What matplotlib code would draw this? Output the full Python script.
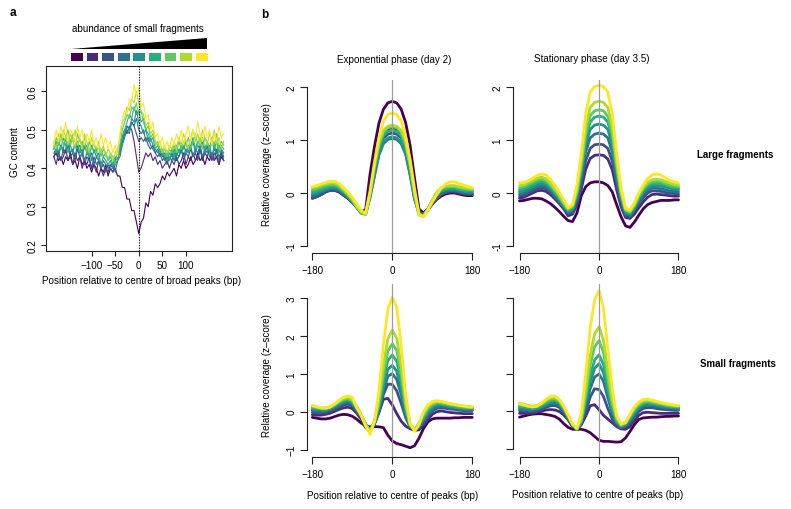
import numpy as np
import matplotlib
matplotlib.use('Agg')
import matplotlib.pyplot as plt
from matplotlib.patches import Polygon, Rectangle

plt.rcParams['font.family'] = ['Liberation Sans', 'DejaVu Sans']

# ---------------- data ----------------
x_gc = list(range(-180, 181, 5))
x_cov = list(range(-180, 181, 10))

# panel a: GC content, 9 groups (low -> high abundance of small fragments)
gc_content = [
    [0.43,0.44,0.42,0.43,0.41,0.43,0.42,0.44,0.41,0.42,0.40,0.43,0.41,0.42,0.40,0.41,0.39,0.41,0.40,0.38,0.40,0.39,0.41,0.38,0.40,
     0.39,0.40,0.38,0.38,0.35,0.35,0.32,0.32,0.29,0.29,0.26,0.23,0.26,0.27,0.31,0.30,0.34,0.33,0.36,0.35,0.36,0.38,0.37,
     0.39,0.38,0.39,0.40,0.38,0.41,0.40,0.42,0.40,0.41,0.43,0.41,0.42,0.44,0.42,0.43,0.41,0.43,0.42,0.44,0.42,0.43,0.41,0.43,0.42],
    [0.43,0.41,0.44,0.42,0.43,0.45,0.42,0.43,0.41,0.44,0.42,0.43,0.40,0.42,0.41,0.43,0.40,0.41,0.39,0.42,0.40,0.38,0.40,0.39,0.41,
     0.40,0.42,0.44,0.46,0.48,0.50,0.49,0.51,0.50,0.47,0.43,0.39,0.40,0.42,0.44,0.43,0.44,0.42,0.43,0.41,0.42,0.40,0.41,
     0.42,0.40,0.42,0.41,0.43,0.41,0.42,0.44,0.41,0.43,0.42,0.44,0.42,0.43,0.45,0.42,0.44,0.43,0.45,0.42,0.44,0.43,0.41,0.44,0.42],
    [0.43,0.45,0.44,0.42,0.45,0.44,0.46,0.43,0.44,0.42,0.45,0.43,0.44,0.41,0.43,0.42,0.40,0.43,0.41,0.42,0.40,0.41,0.39,0.41,0.40,
     0.39,0.41,0.42,0.45,0.47,0.49,0.51,0.50,0.52,0.51,0.49,0.47,0.48,0.47,0.48,0.46,0.45,0.46,0.44,0.43,0.44,0.42,0.43,
     0.41,0.43,0.42,0.44,0.42,0.43,0.45,0.42,0.44,0.43,0.45,0.43,0.44,0.42,0.45,0.43,0.44,0.46,0.43,0.44,0.42,0.45,0.43,0.44,0.42],
    [0.44,0.45,0.43,0.46,0.44,0.45,0.47,0.44,0.45,0.43,0.46,0.44,0.45,0.42,0.44,0.43,0.44,0.41,0.43,0.42,0.40,0.42,0.41,0.40,0.41,
     0.41,0.39,0.42,0.43,0.46,0.48,0.50,0.49,0.52,0.51,0.53,0.50,0.49,0.50,0.47,0.48,0.46,0.45,0.44,0.45,0.43,0.44,0.42,
     0.43,0.42,0.44,0.42,0.44,0.43,0.45,0.43,0.45,0.44,0.46,0.43,0.45,0.44,0.46,0.43,0.45,0.44,0.46,0.43,0.45,0.44,0.42,0.45,0.43],
    [0.45,0.47,0.44,0.46,0.45,0.48,0.45,0.46,0.44,0.47,0.45,0.46,0.43,0.46,0.44,0.45,0.42,0.45,0.43,0.44,0.41,0.43,0.42,0.41,0.42,
     0.40,0.42,0.43,0.44,0.47,0.49,0.51,0.50,0.53,0.52,0.55,0.52,0.51,0.49,0.50,0.47,0.48,0.46,0.45,0.44,0.45,0.43,0.44,
     0.42,0.44,0.43,0.45,0.43,0.45,0.44,0.46,0.44,0.46,0.45,0.47,0.44,0.46,0.45,0.47,0.44,0.46,0.45,0.43,0.46,0.44,0.46,0.45,0.44],
    [0.46,0.44,0.47,0.45,0.48,0.46,0.44,0.47,0.49,0.46,0.47,0.44,0.47,0.45,0.46,0.43,0.46,0.44,0.45,0.42,0.45,0.43,0.44,0.42,0.43,
     0.41,0.43,0.42,0.45,0.48,0.50,0.52,0.54,0.53,0.56,0.54,0.55,0.52,0.53,0.50,0.49,0.47,0.48,0.45,0.46,0.44,0.45,0.43,
     0.44,0.42,0.45,0.43,0.46,0.44,0.46,0.45,0.47,0.44,0.46,0.48,0.45,0.47,0.46,0.48,0.45,0.47,0.44,0.47,0.45,0.47,0.44,0.46,0.45],
    [0.45,0.48,0.46,0.49,0.46,0.48,0.50,0.46,0.48,0.45,0.49,0.47,0.46,0.48,0.44,0.47,0.45,0.47,0.44,0.46,0.43,0.45,0.44,0.42,0.44,
     0.43,0.41,0.44,0.46,0.50,0.52,0.54,0.53,0.56,0.55,0.57,0.54,0.55,0.52,0.50,0.51,0.48,0.49,0.46,0.47,0.45,0.44,0.45,
     0.43,0.45,0.44,0.46,0.44,0.47,0.45,0.47,0.46,0.48,0.45,0.47,0.49,0.46,0.48,0.45,0.48,0.47,0.45,0.48,0.46,0.49,0.45,0.47,0.46],
    [0.47,0.45,0.49,0.47,0.50,0.48,0.46,0.49,0.47,0.50,0.46,0.48,0.45,0.49,0.47,0.44,0.48,0.46,0.45,0.47,0.44,0.46,0.43,0.45,0.44,
     0.42,0.44,0.45,0.48,0.52,0.53,0.56,0.55,0.58,0.57,0.60,0.57,0.55,0.54,0.51,0.52,0.49,0.50,0.47,0.46,0.47,0.44,0.46,
     0.44,0.46,0.45,0.47,0.45,0.48,0.46,0.49,0.47,0.45,0.48,0.50,0.47,0.49,0.46,0.50,0.48,0.46,0.49,0.47,0.50,0.46,0.48,0.45,0.47],
    [0.46,0.50,0.47,0.51,0.48,0.52,0.47,0.50,0.49,0.46,0.51,0.48,0.50,0.46,0.49,0.47,0.50,0.46,0.48,0.45,0.49,0.46,0.48,0.45,0.47,
     0.44,0.46,0.43,0.49,0.53,0.55,0.54,0.58,0.57,0.62,0.59,0.61,0.56,0.57,0.53,0.54,0.50,0.52,0.48,0.49,0.46,0.48,0.45,
     0.47,0.45,0.48,0.46,0.49,0.47,0.50,0.46,0.49,0.51,0.47,0.50,0.48,0.52,0.49,0.47,0.51,0.48,0.50,0.46,0.49,0.47,0.51,0.48,0.49],
]

# panel b: relative coverage (z-score)
exp_large = [
    [-0.10,-0.07,-0.03,0.02,0.05,0.05,0.02,-0.04,-0.10,-0.17,-0.25,-0.35,-0.32,0.36,0.88,1.32,1.58,1.70,1.73,1.70,1.58,1.33,0.90,0.28,-0.30,-0.38,-0.30,-0.20,-0.12,-0.06,-0.02,0.00,0.00,-0.02,-0.04,-0.05,-0.05],
    [-0.08,-0.05,-0.01,0.03,0.06,0.07,0.04,-0.02,-0.09,-0.17,-0.26,-0.36,-0.36,0.12,0.60,0.95,1.14,1.21,1.23,1.21,1.14,0.96,0.62,0.12,-0.34,-0.40,-0.32,-0.21,-0.11,-0.04,0.00,0.02,0.02,0.00,-0.02,-0.03,-0.03],
    [-0.10,-0.07,-0.03,0.02,0.05,0.05,0.03,-0.03,-0.10,-0.18,-0.27,-0.37,-0.37,0.02,0.48,0.85,1.04,1.11,1.13,1.11,1.04,0.86,0.50,0.04,-0.36,-0.40,-0.32,-0.20,-0.10,-0.03,0.01,0.03,0.03,0.01,-0.01,-0.02,-0.02],
    [-0.05,-0.03,0.01,0.05,0.08,0.08,0.05,-0.01,-0.08,-0.17,-0.27,-0.38,-0.39,-0.08,0.32,0.72,0.93,1.01,1.03,1.01,0.93,0.73,0.34,-0.12,-0.38,-0.41,-0.31,-0.18,-0.07,0.01,0.04,0.05,0.05,0.03,0.01,0.00,0.00],
    [-0.02,0.00,0.04,0.07,0.10,0.10,0.07,0.01,-0.07,-0.16,-0.27,-0.38,-0.40,-0.06,0.35,0.75,0.96,1.04,1.06,1.04,0.96,0.76,0.36,-0.10,-0.39,-0.42,-0.31,-0.17,-0.05,0.03,0.06,0.07,0.07,0.05,0.03,0.02,0.02],
    [0.02,0.04,0.07,0.10,0.13,0.13,0.10,0.03,-0.05,-0.15,-0.27,-0.38,-0.40,-0.02,0.45,0.85,1.08,1.16,1.18,1.16,1.08,0.86,0.46,-0.04,-0.40,-0.43,-0.30,-0.15,-0.03,0.05,0.08,0.09,0.09,0.07,0.05,0.04,0.04],
    [0.06,0.08,0.11,0.14,0.16,0.16,0.12,0.05,-0.03,-0.13,-0.26,-0.37,-0.40,0.00,0.50,0.92,1.15,1.23,1.25,1.23,1.15,0.93,0.52,-0.02,-0.41,-0.44,-0.30,-0.14,0.00,0.08,0.11,0.12,0.12,0.10,0.08,0.07,0.06],
    [0.10,0.12,0.15,0.17,0.19,0.19,0.15,0.07,-0.02,-0.12,-0.25,-0.36,-0.40,0.02,0.53,0.95,1.18,1.26,1.28,1.26,1.18,0.96,0.55,0.00,-0.41,-0.45,-0.31,-0.14,0.01,0.10,0.13,0.14,0.14,0.12,0.10,0.09,0.08],
    [0.12,0.14,0.17,0.20,0.22,0.22,0.18,0.10,0.02,-0.08,-0.20,-0.33,-0.38,0.02,0.58,1.04,1.35,1.48,1.51,1.48,1.36,1.07,0.64,0.08,-0.40,-0.45,-0.32,-0.17,-0.03,0.09,0.17,0.21,0.21,0.18,0.15,0.12,0.10],
]

stat_large = [
    [-0.15,-0.14,-0.12,-0.10,-0.10,-0.11,-0.15,-0.20,-0.27,-0.35,-0.44,-0.52,-0.54,-0.38,-0.05,0.12,0.19,0.21,0.21,0.19,0.14,0.02,-0.22,-0.45,-0.62,-0.65,-0.55,-0.42,-0.30,-0.22,-0.18,-0.16,-0.14,-0.14,-0.14,-0.13,-0.13],
    [-0.10,-0.08,-0.04,0.00,0.04,0.05,0.03,-0.03,-0.11,-0.20,-0.30,-0.43,-0.40,-0.23,0.08,0.45,0.65,0.71,0.72,0.71,0.64,0.44,0.06,-0.26,-0.46,-0.48,-0.40,-0.28,-0.17,-0.08,-0.03,-0.02,-0.03,-0.04,-0.05,-0.06,-0.06],
    [-0.06,-0.04,0.00,0.04,0.08,0.10,0.08,0.01,-0.08,-0.18,-0.28,-0.39,-0.37,-0.17,0.18,0.61,0.84,0.91,0.92,0.91,0.84,0.60,0.17,-0.20,-0.42,-0.45,-0.35,-0.21,-0.09,0.00,0.04,0.04,0.03,0.01,0.00,-0.01,-0.02],
    [-0.02,0.00,0.04,0.08,0.12,0.14,0.12,0.05,-0.05,-0.15,-0.26,-0.37,-0.34,-0.11,0.29,0.78,1.04,1.11,1.13,1.11,1.04,0.77,0.28,-0.14,-0.39,-0.42,-0.31,-0.16,-0.03,0.05,0.09,0.09,0.08,0.06,0.04,0.03,0.02],
    [0.02,0.04,0.08,0.12,0.16,0.18,0.16,0.09,-0.01,-0.12,-0.24,-0.35,-0.31,-0.06,0.38,0.91,1.20,1.28,1.30,1.28,1.20,0.91,0.37,-0.09,-0.37,-0.40,-0.28,-0.12,0.01,0.09,0.13,0.14,0.13,0.11,0.09,0.07,0.06],
    [0.06,0.08,0.12,0.16,0.20,0.22,0.19,0.12,0.02,-0.09,-0.22,-0.33,-0.29,-0.02,0.45,1.03,1.34,1.43,1.45,1.43,1.34,1.03,0.44,-0.05,-0.34,-0.38,-0.26,-0.09,0.05,0.13,0.17,0.18,0.17,0.15,0.12,0.10,0.09],
    [0.10,0.12,0.16,0.20,0.24,0.26,0.23,0.15,0.05,-0.07,-0.20,-0.31,-0.26,0.02,0.52,1.13,1.46,1.55,1.57,1.55,1.45,1.13,0.51,-0.01,-0.32,-0.36,-0.24,-0.06,0.08,0.17,0.21,0.22,0.21,0.18,0.15,0.13,0.12],
    [0.14,0.16,0.20,0.24,0.28,0.30,0.27,0.19,0.08,-0.04,-0.17,-0.29,-0.24,0.07,0.60,1.26,1.61,1.71,1.73,1.71,1.61,1.25,0.59,0.02,-0.31,-0.35,-0.22,-0.03,0.11,0.20,0.25,0.26,0.25,0.22,0.19,0.16,0.15],
    [0.19,0.20,0.23,0.28,0.33,0.36,0.34,0.26,0.15,0.02,-0.12,-0.28,-0.22,0.15,0.75,1.50,1.90,2.01,2.03,2.01,1.90,1.50,0.75,0.10,-0.28,-0.32,-0.18,0.00,0.15,0.27,0.34,0.36,0.34,0.29,0.24,0.21,0.19],
]

exp_small = [
    [-0.15,-0.17,-0.19,-0.19,-0.17,-0.13,-0.09,-0.07,-0.08,-0.12,-0.20,-0.30,-0.37,-0.40,-0.39,-0.40,-0.42,-0.62,-0.77,-0.84,-0.87,-0.91,-0.95,-0.90,-0.70,-0.45,-0.27,-0.19,-0.17,-0.17,-0.17,-0.17,-0.16,-0.16,-0.15,-0.15,-0.15],
    [-0.08,-0.09,-0.09,-0.07,-0.04,0.01,0.06,0.10,0.12,0.08,-0.04,-0.20,-0.42,-0.50,-0.32,-0.02,0.33,0.35,0.18,-0.05,-0.25,-0.38,-0.45,-0.49,-0.48,-0.36,-0.20,-0.07,0.00,0.02,0.00,-0.02,-0.03,-0.04,-0.05,-0.05,-0.05],
    [-0.02,-0.03,-0.04,-0.02,0.01,0.06,0.12,0.17,0.20,0.15,0.01,-0.16,-0.35,-0.48,-0.30,0.00,0.45,0.73,0.72,0.55,0.22,-0.15,-0.40,-0.47,-0.43,-0.30,-0.12,0.02,0.09,0.10,0.09,0.07,0.06,0.04,0.03,0.03,0.03],
    [0.03,0.02,0.01,0.02,0.05,0.10,0.17,0.23,0.26,0.20,0.05,-0.13,-0.34,-0.49,-0.30,0.04,0.55,0.94,1.00,0.85,0.45,-0.08,-0.40,-0.46,-0.40,-0.25,-0.06,0.07,0.14,0.15,0.13,0.11,0.09,0.07,0.06,0.05,0.05],
    [0.07,0.05,0.04,0.05,0.08,0.13,0.20,0.26,0.29,0.23,0.08,-0.11,-0.33,-0.50,-0.30,0.08,0.66,1.12,1.22,1.07,0.60,-0.02,-0.39,-0.46,-0.38,-0.20,-0.01,0.11,0.18,0.18,0.16,0.13,0.11,0.09,0.08,0.07,0.07],
    [0.10,0.08,0.07,0.07,0.10,0.16,0.23,0.29,0.32,0.26,0.10,-0.10,-0.33,-0.51,-0.28,0.16,0.82,1.35,1.50,1.33,0.80,0.06,-0.37,-0.47,-0.35,-0.15,0.04,0.15,0.21,0.21,0.18,0.16,0.13,0.11,0.10,0.09,0.09],
    [0.13,0.11,0.09,0.09,0.12,0.18,0.26,0.32,0.35,0.29,0.12,-0.09,-0.33,-0.52,-0.27,0.23,0.99,1.60,1.79,1.62,0.99,0.16,-0.35,-0.47,-0.32,-0.10,0.09,0.19,0.24,0.23,0.21,0.18,0.16,0.14,0.12,0.11,0.11],
    [0.16,0.13,0.10,0.10,0.13,0.20,0.28,0.35,0.38,0.32,0.14,-0.08,-0.33,-0.53,-0.24,0.35,1.22,1.92,2.15,1.95,1.22,0.27,-0.33,-0.48,-0.30,-0.05,0.14,0.23,0.27,0.26,0.24,0.21,0.19,0.17,0.15,0.14,0.13],
    [0.16,0.13,0.10,0.09,0.12,0.20,0.30,0.38,0.42,0.38,0.10,-0.10,-0.38,-0.60,-0.25,0.55,1.75,2.70,3.02,2.75,1.75,0.45,-0.30,-0.52,-0.35,0.00,0.18,0.27,0.29,0.27,0.24,0.21,0.19,0.17,0.15,0.13,0.12],
]

stat_small = [
    [-0.15,-0.12,-0.09,-0.07,-0.06,-0.06,-0.08,-0.10,-0.13,-0.20,-0.32,-0.42,-0.47,-0.47,-0.47,-0.50,-0.56,-0.66,-0.76,-0.79,-0.79,-0.80,-0.81,-0.80,-0.70,-0.53,-0.35,-0.21,-0.17,-0.16,-0.15,-0.15,-0.14,-0.13,-0.13,-0.12,-0.12],
    [-0.05,-0.05,-0.05,-0.04,-0.02,0.01,0.04,0.05,0.04,0.00,-0.09,-0.22,-0.40,-0.47,-0.35,-0.12,0.15,0.18,0.05,-0.10,-0.20,-0.30,-0.40,-0.46,-0.47,-0.40,-0.25,-0.10,-0.03,-0.02,-0.03,-0.04,-0.05,-0.05,-0.05,-0.05,-0.05],
    [0.02,0.01,0.00,0.00,0.02,0.06,0.11,0.15,0.16,0.11,-0.02,-0.20,-0.38,-0.47,-0.33,0.00,0.38,0.60,0.58,0.40,0.08,-0.20,-0.37,-0.44,-0.41,-0.30,-0.14,0.00,0.08,0.10,0.10,0.08,0.06,0.05,0.04,0.03,0.03],
    [0.06,0.05,0.04,0.03,0.05,0.10,0.16,0.20,0.22,0.16,0.02,-0.17,-0.37,-0.47,-0.31,0.12,0.60,0.91,0.99,0.80,0.36,-0.05,-0.32,-0.42,-0.38,-0.26,-0.08,0.06,0.14,0.16,0.15,0.13,0.11,0.09,0.08,0.07,0.06],
    [0.10,0.08,0.07,0.06,0.08,0.13,0.19,0.24,0.26,0.20,0.05,-0.15,-0.36,-0.47,-0.28,0.22,0.78,1.14,1.26,1.03,0.51,0.03,-0.28,-0.40,-0.35,-0.22,-0.04,0.10,0.18,0.20,0.19,0.16,0.14,0.12,0.11,0.10,0.09],
    [0.14,0.12,0.10,0.09,0.11,0.16,0.23,0.28,0.30,0.24,0.08,-0.13,-0.35,-0.47,-0.25,0.32,0.95,1.36,1.50,1.24,0.65,0.10,-0.25,-0.38,-0.33,-0.18,0.01,0.14,0.22,0.24,0.22,0.19,0.17,0.15,0.13,0.12,0.11],
    [0.18,0.16,0.13,0.12,0.14,0.19,0.26,0.32,0.34,0.27,0.10,-0.12,-0.34,-0.46,-0.21,0.47,1.22,1.71,1.87,1.57,0.86,0.21,-0.20,-0.36,-0.30,-0.14,0.05,0.18,0.25,0.27,0.25,0.22,0.20,0.17,0.15,0.14,0.13],
    [0.22,0.19,0.16,0.14,0.16,0.22,0.30,0.36,0.38,0.30,0.13,-0.10,-0.33,-0.46,-0.17,0.61,1.48,2.05,2.24,1.89,1.08,0.32,-0.15,-0.34,-0.28,-0.10,0.10,0.22,0.29,0.30,0.28,0.25,0.22,0.20,0.18,0.16,0.15],
    [0.20,0.17,0.14,0.12,0.14,0.22,0.32,0.40,0.41,0.33,0.15,-0.08,-0.33,-0.44,-0.05,1.00,2.20,2.95,3.20,2.75,1.65,0.60,-0.12,-0.33,-0.30,-0.08,0.12,0.25,0.32,0.33,0.30,0.27,0.24,0.21,0.19,0.17,0.16],
]

gc_xticks = [-100, -50, 0, 50, 100]
gc_xticklabels = ['\u2212100', '\u221250', '0', '50', '100']
gc_yticks = [0.2, 0.3, 0.4, 0.5, 0.6]
cov_xticks = [-180, 0, 180]
cov_xticklabels = ['\u2212180', '0', '180']

# ---------------- figure ----------------
W, H = 791, 510
fig = plt.figure(figsize=(W / 100, H / 100), dpi=100)
colors = plt.cm.viridis(np.linspace(0, 1, 9))
AXC = '#222222'
FS = 7.1
FSB = 7.0


def rect(l, t, r, b):
    return [l / W, 1 - b / H, (r - l) / W, (b - t) / H]


def ftext(px, py, s, **kw):
    fig.text(px / W, 1 - py / H, s, **kw)


# panel a
axa = fig.add_axes(rect(46.3, 66.7, 231.7, 252.3))
for s, c in zip(gc_content, colors):
    axa.plot(x_gc, s, color=c, lw=0.8)
axa.axvline(0, color='black', lw=0.8, ls=(0, (1.2, 1.2)), zorder=10)
axa.set_xlim(-196, 197)
axa.set_ylim(0.184, 0.667)
axa.set_xticks(gc_xticks)
axa.set_xticklabels(gc_xticklabels)
axa.set_yticks(gc_yticks)
axa.set_yticklabels([f'{v:.1f}' for v in gc_yticks], rotation=90, va='center')
for sp in axa.spines.values():
    sp.set_color(AXC)
    sp.set_linewidth(0.8)
axa.tick_params(direction='out', length=3.5, width=0.8, color=AXC, labelsize=FS, pad=2.5)
ftext(15, 151.7, 'GC content', rotation=90, ha='center', va='center', fontsize=FS)
ftext(142, 280.5, 'Position relative to centre of broad peaks (bp)', ha='center', va='center', fontsize=FS)

# legend of panel a
ftext(137.7, 29.3, 'abundance of small fragments', ha='center', va='center', fontsize=FS)
fig.add_artist(Polygon([(71 / W, 1 - 49.5 / H), (207.3 / W, 1 - 49.5 / H), (207.3 / W, 1 - 39.3 / H)],
                       closed=True, transform=fig.transFigure, facecolor='black', edgecolor='none'))
for i, c in enumerate(colors):
    x0 = 71 + i * 15.6
    fig.add_artist(Rectangle((x0 / W, 1 - 62 / H), 11.7 / W, 8 / H, transform=fig.transFigure,
                             facecolor=c, edgecolor='none'))

ftext(12.7, 13.3, 'a', ha='center', va='center', fontsize=8.5, fontweight='bold')
ftext(265, 15, 'b', ha='center', va='center', fontsize=8.5, fontweight='bold')


def cov_panel(r, xlim, ylim, yticks, ylabels, series):
    ax = fig.add_axes(r)
    for s, c in zip(series, colors):
        ax.plot(x_cov, s, color=c, lw=2.0, solid_joinstyle='round', solid_capstyle='round')
    ax.axvline(0, color='#9c9c9c', lw=0.9, zorder=10)
    ax.set_xlim(xlim)
    ax.set_ylim(ylim)
    ax.spines['top'].set_visible(False)
    ax.spines['right'].set_visible(False)
    for sp in ('left', 'bottom'):
        ax.spines[sp].set_color(AXC)
        ax.spines[sp].set_linewidth(0.8)
    ax.spines['left'].set_bounds(yticks[0], yticks[-1])
    ax.spines['bottom'].set_bounds(-180, 180)
    ax.set_xticks(cov_xticks)
    ax.set_xticklabels(cov_xticklabels)
    ax.set_yticks(yticks)
    if ylabels:
        ax.set_yticklabels(ylabels, rotation=90, va='center')
    else:
        ax.set_yticklabels([])
    ax.tick_params(direction='out', length=5, width=0.8, color=AXC, labelsize=FS)
    ax.tick_params(axis='y', pad=2.5)
    ax.tick_params(axis='x', pad=3.5)
    return ax


cov_panel(rect(306.7, 81, 477.9, 254.3), (-192.6, 192.6), (-1.138, 2.132),
          [-1, 0, 1, 2], ['-1', '0', '1', '2'], exp_large)
cov_panel(rect(512.7, 81, 685.3, 254.3), (-195.4, 195.4), (-1.138, 2.132),
          [-1, 0, 1, 2], ['-1', '0', '1', '2'], stat_large)
cov_panel(rect(306.7, 285, 477.9, 458.3), (-192.6, 192.6), (-1.203, 3.37),
          [-1, 0, 1, 2, 3], ['\u22121', '0', '1', '2', '3'], exp_small)
cov_panel(rect(512.7, 285, 685.3, 458.0), (-195.4, 195.4), (-1.203, 3.37),
          [-1, 0, 1, 2, 3], None, stat_small)

ftext(394.3, 60, 'Exponential phase (day 2)', ha='center', va='center', fontsize=FS)
ftext(591.7, 58.7, 'Stationary phase (day 3.5)', ha='center', va='center', fontsize=FS)
ftext(266.7, 165, 'Relative coverage (z\u2013score)', rotation=90, ha='center', va='center', fontsize=FS)
ftext(266.7, 375.5, 'Relative coverage (z\u2013score)', rotation=90, ha='center', va='center', fontsize=FS)
ftext(696.7, 155.3, 'Large fragments', ha='left', va='center', fontsize=FSB, fontweight='bold')
ftext(700, 364.3, 'Small fragments', ha='left', va='center', fontsize=FSB, fontweight='bold')
ftext(392.3, 495.7, 'Position relative to centre of peaks (bp)', ha='center', va='center', fontsize=FS)
ftext(597.8, 495.3, 'Position relative to centre of peaks (bp)', ha='center', va='center', fontsize=FS)

fig.savefig('out.png', dpi=100)
